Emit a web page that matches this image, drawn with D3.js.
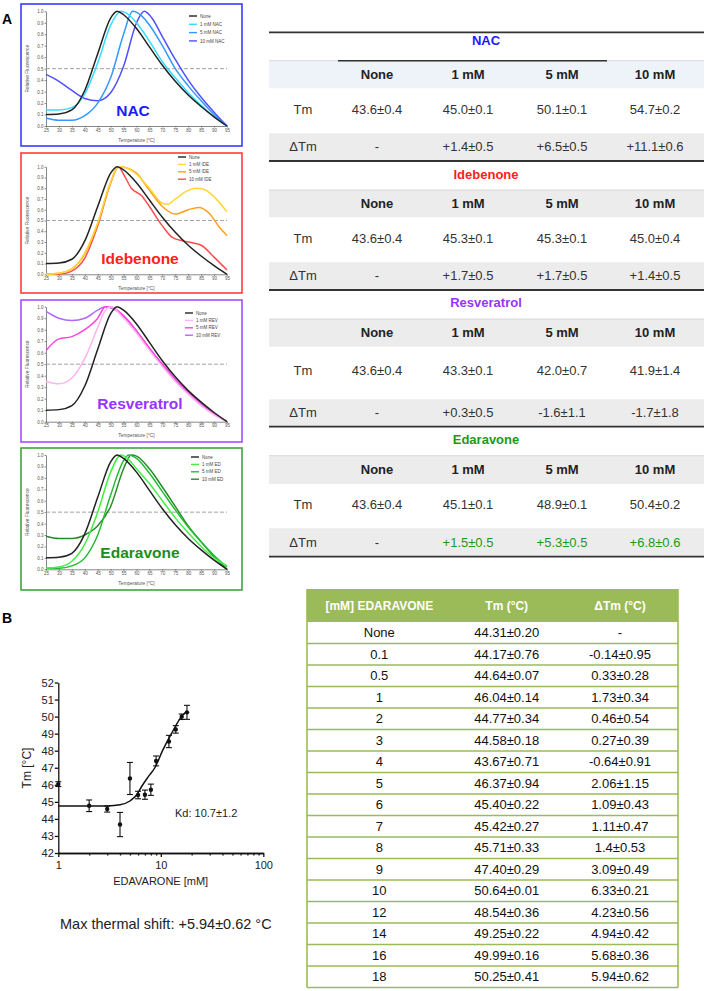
<!DOCTYPE html>
<html><head><meta charset="utf-8">
<script src="https://cdn.jsdelivr.net/npm/d3@7"></script>
<style>body{margin:0;background:#fff}svg{display:block}text{font-family:"Liberation Sans",Arial,sans-serif}</style>
</head><body><svg id="c" width="709" height="991"></svg>
<script>
// ---------- DATA: melting curves (Temperature °C, relative fluorescence) ----------
const noneCurve = [[25,0.10],[30,0.105],[35,0.14],[40,0.31],[45,0.63],[50,0.94],[52.5,1.0],[55,0.97],[60,0.85],[65,0.69],[70,0.53],[75,0.39],[80,0.27],[85,0.17],[90,0.08],[95,0.0]];
const nac1 = [[25,0.14],[30,0.14],[35,0.16],[40,0.28],[45,0.55],[50,0.88],[54,1.0],[57,0.97],[60,0.9],[65,0.74],[70,0.56],[75,0.42],[80,0.29],[85,0.18],[90,0.08],[95,0.0]];
const nac5 = [[25,0.07],[30,0.05],[35,0.05],[40,0.09],[45,0.2],[50,0.42],[55,0.8],[58.5,1.0],[62,0.96],[65,0.88],[70,0.7],[75,0.5],[80,0.35],[85,0.22],[90,0.1],[95,0.0]];
const nac10 = [[25,0.45],[30,0.39],[35,0.31],[40,0.24],[45,0.22],[50,0.29],[55,0.52],[60,0.9],[63,1.0],[66,0.94],[70,0.78],[75,0.58],[80,0.4],[85,0.25],[90,0.12],[95,0.0]];
const ide1 = [[25,0.0],[30,0.01],[35,0.05],[40,0.2],[45,0.48],[50,0.86],[53,1.0],[56,0.99],[60,0.93],[65,0.8],[70,0.66],[72,0.65],[75,0.7],[80,0.78],[83,0.8],[86,0.79],[90,0.72],[95,0.58]];
const ide5 = [[25,0.0],[30,0.01],[35,0.05],[40,0.19],[45,0.47],[50,0.85],[53,1.0],[56,0.99],[60,0.94],[65,0.78],[70,0.63],[75,0.56],[80,0.6],[84,0.62],[88,0.57],[92,0.44],[95,0.36]];
const ide10 = [[25,0.0],[30,0.0],[35,0.03],[40,0.15],[45,0.45],[50,0.85],[53,1.0],[55,0.93],[58,0.8],[62,0.73],[65,0.63],[70,0.45],[74,0.34],[78,0.31],[82,0.29],[85,0.27],[90,0.16],[95,0.04]];
const rev1 = [[25,0.35],[30,0.33],[35,0.38],[40,0.55],[45,0.82],[48,0.97],[50,1.0],[55,0.9],[60,0.77],[65,0.62],[70,0.48],[75,0.35],[80,0.24],[85,0.14],[90,0.06],[95,0.0]];
const rev5 = [[25,0.62],[30,0.72],[35,0.74],[40,0.8],[45,0.9],[48,1.0],[50,1.0],[55,0.92],[60,0.79],[65,0.64],[70,0.5],[75,0.37],[80,0.25],[85,0.15],[90,0.07],[95,0.0]];
const rev10 = [[25,0.96],[30,0.9],[35,0.88],[40,0.9],[45,0.97],[48,1.0],[50,0.99],[55,0.92],[60,0.79],[65,0.64],[70,0.5],[75,0.37],[80,0.26],[85,0.16],[90,0.07],[95,0.0]];
const ed1 = [[25,0.01],[30,0.02],[35,0.07],[40,0.22],[45,0.5],[50,0.85],[54,1.0],[57,0.96],[60,0.88],[65,0.75],[70,0.6],[75,0.45],[80,0.32],[85,0.2],[90,0.1],[95,0.03]];
const ed5 = [[25,0.01],[30,0.01],[35,0.03],[40,0.1],[45,0.3],[50,0.65],[55,0.95],[57,1.0],[60,0.97],[65,0.84],[70,0.68],[75,0.52],[80,0.37],[85,0.24],[90,0.12],[95,0.02]];
const ed10 = [[25,0.29],[30,0.27],[35,0.27],[40,0.3],[45,0.38],[50,0.55],[55,0.88],[58,1.0],[60,0.99],[65,0.88],[70,0.72],[75,0.55],[80,0.38],[85,0.24],[90,0.11],[95,0.0]];
const tempTicks = [25,30,35,40,45,50,55,60,65,70,75,80,85,90,95];
const fluoTicks = [0,0.1,0.2,0.3,0.4,0.5,0.6,0.7,0.8,0.9,1.0];

// ---------- DATA: panel A tables ----------
const compounds = ["NAC","Idebenone","Resveratrol","Edaravone"];
const concHeaders = ["None","1 mM","5 mM","10 mM"];
const nacTm = ["43.6±0.4","45.0±0.1","50.1±0.1","54.7±0.2"];
const nacDTm = ["-","+1.4±0.5","+6.5±0.5","+11.1±0.6"];
const ideTm = ["43.6±0.4","45.3±0.1","45.3±0.1","45.0±0.4"];
const ideDTm = ["-","+1.7±0.5","+1.7±0.5","+1.4±0.5"];
const revTm = ["43.6±0.4","43.3±0.1","42.0±0.7","41.9±1.4"];
const revDTm = ["-","+0.3±0.5","-1.6±1.1","-1.7±1.8"];
const edTm = ["43.6±0.4","45.1±0.1","48.9±0.1","50.4±0.2"];
const edDTm = ["-","+1.5±0.5","+5.3±0.5","+6.8±0.6"];

// ---------- DATA: panel B ----------
const edaConc = ["None","0.1","0.5","1","2","3","4","5","6","7","8","9","10","12","14","16","18"];
const edaTm = ["44.31±0.20","44.17±0.76","44.64±0.07","46.04±0.14","44.77±0.34","44.58±0.18","43.67±0.71","46.37±0.94","45.40±0.22","45.42±0.27","45.71±0.33","47.40±0.29","50.64±0.01","48.54±0.36","49.25±0.22","49.99±0.16","50.25±0.41"];
const edaDTm = ["-","-0.14±0.95","0.33±0.28","1.73±0.34","0.46±0.54","0.27±0.39","-0.64±0.91","2.06±1.15","1.09±0.43","1.11±0.47","1.4±0.53","3.09±0.49","6.33±0.21","4.23±0.56","4.94±0.42","5.68±0.36","5.94±0.62"];
const doseConc = [1,2,3,4,5,6,7,8,9,12,14,16,18];
const doseTm = [46.04,44.77,44.58,43.67,46.37,45.40,45.42,45.71,47.40,48.54,49.25,49.99,50.25];
const doseErr = [0.14,0.34,0.18,0.71,0.94,0.22,0.27,0.33,0.29,0.36,0.22,0.16,0.41];
const fitConc = [1,2,3,4,5,5.8,6.5,7.5,8.75,10.4,12.7,15.9,17.8];
const fitTm = [44.75,44.75,44.76,44.83,45.05,45.4,45.9,46.45,47.0,48.0,49.0,50.0,50.3];
const doseYTicks = [42,43,44,45,46,47,48,49,50,51,52];
const doseXTicks = [1,10,100];

// ---------- DRAW ----------
const svg = d3.select("#c");
const F = '"Liberation Sans",Arial,sans-serif';

svg.append("text").attr("x",2).attr("y",24).attr("font-size",14).attr("font-weight","bold").text("A");
svg.append("text").attr("x",2).attr("y",623).attr("font-size",14).attr("font-weight","bold").text("B");

const panels = [
  {box:[4,146], y1:11.3, y0:126, color:"#3b3bff", label:"NAC", labelX:133, labelY:116, lcol:"#1a1aff",
   series:[[noneCurve,"#222","None"],[nac1,"#33ddff","1 mM NAC"],[nac5,"#3399ff","5 mM NAC"],[nac10,"#5050ff","10 mM NAC"]],
   leg:[189,16,8.3]},
  {box:[153,293], y1:166.7, y0:274.3, color:"#ff3b3b", label:"Idebenone", labelX:140, labelY:264, lcol:"#ff2020",
   series:[[noneCurve,"#222","None"],[ide1,"#ffd633","1 mM IDE"],[ide5,"#ff9f1a","5 mM IDE"],[ide10,"#ff4d4d","10 mM IDE"]],
   leg:[178,157,7.4]},
  {box:[300,442], y1:306.7, y0:421.7, color:"#a64dff", label:"Resveratrol", labelX:140, labelY:409, lcol:"#9933ff",
   series:[[noneCurve,"#222","None"],[rev1,"#ffb3f0","1 mM REV"],[rev5,"#ff44dd","5 mM REV"],[rev10,"#b266ff","10 mM REV"]],
   leg:[185,313,7.4]},
  {box:[448,590], y1:455, y0:569.3, color:"#3da53d", label:"Edaravone", labelX:140, labelY:558, lcol:"#1a8f1a",
   series:[[noneCurve,"#222","None"],[ed1,"#44ee44","1 mM ED"],[ed5,"#22bb33","5 mM ED"],[ed10,"#2a8a2a","10 mM ED"]],
   leg:[191,457,7.4]}
];

panels.forEach(p => {
  const g = svg.append("g");
  g.append("rect").attr("x",21).attr("y",p.box[0]).attr("width",221).attr("height",p.box[1]-p.box[0])
    .attr("fill","#fff").attr("stroke",p.color).attr("stroke-width",1.6);
  const x = d3.scaleLinear().domain([25,95]).range([46,227]);
  const y = d3.scaleLinear().domain([0,1]).range([p.y0,p.y1]);
  const ax = g.append("g").attr("transform",`translate(0,${p.y0})`)
    .call(d3.axisBottom(x).tickValues(tempTicks).tickSize(1.5).tickSizeOuter(0).tickPadding(1));
  const ay = g.append("g").attr("transform",`translate(46,0)`)
    .call(d3.axisLeft(y).tickValues(fluoTicks).tickFormat(d3.format(".1f")).tickSize(1.5).tickSizeOuter(0).tickPadding(1));
  [ax,ay].forEach(a => { a.selectAll("text").attr("font-size",4.5).attr("fill","#555").attr("font-family",F);
    a.selectAll("path,line").attr("stroke","#555").attr("stroke-width",0.7); });
  g.append("text").attr("x",136.5).attr("y",p.y0+15.5).attr("text-anchor","middle").attr("font-size",4.8).attr("fill","#555").text("Temperature [°C]");
  g.append("text").attr("transform",`translate(29,${(p.y0+p.y1)/2}) rotate(-90)`).attr("text-anchor","middle").attr("font-size",4.8).attr("fill","#555").text("Relative Fluorescence");
  g.append("line").attr("x1",46).attr("x2",227).attr("y1",y(0.5)).attr("y2",y(0.5))
    .attr("stroke","#999").attr("stroke-width",0.9).attr("stroke-dasharray","4,2");
  const line = d3.line().x(d=>x(d[0])).y(d=>y(d[1])).curve(d3.curveMonotoneX);
  p.series.slice().reverse().forEach(s => {
    g.append("path").attr("d",line(s[0])).attr("fill","none").attr("stroke",s[1]).attr("stroke-width",1.5);
  });
  p.series.forEach((s,i) => {
    const ly = p.leg[1] + i*p.leg[2];
    g.append("line").attr("x1",p.leg[0]).attr("x2",p.leg[0]+8).attr("y1",ly).attr("y2",ly).attr("stroke",s[1]).attr("stroke-width",1.4);
    g.append("text").attr("x",p.leg[0]+11).attr("y",ly+1.6).attr("font-size",4.5).attr("fill","#444").text(s[2]);
  });
  g.append("text").attr("x",p.labelX).attr("y",p.labelY).attr("text-anchor","middle").attr("font-size",15.5)
    .attr("font-weight","bold").attr("fill",p.lcol).text(p.label);
});

// ---------- Panel A tables ----------
const tblX0 = 269, tblX1 = 704;
const colX = [303,377,468,562,655];
const secTitle = [40.7,174,302.7,439.3];
const hdrTop = [60.7,190,319,455.7], hdrBot = [88.3,217.3,346.7,484];
const tmY = [109.3,238.3,370.7,504];
const dTop = [133.3,262.3,399.3,528.3], dBot = [160,289.3,426,556];
const ruleY = [161,290,426.7,556.7];
const secColors = ["#1a1aff","#ff2020","#9933ff","#1a9a1a"];
const tmRows = [nacTm, ideTm, revTm, edTm];
const dRows = [nacDTm, ideDTm, revDTm, edDTm];
const tg = svg.append("g");
tg.append("line").attr("x1",tblX0).attr("x2",tblX1).attr("y1",32.3).attr("y2",32.3).attr("stroke","#333").attr("stroke-width",1.8);
compounds.forEach((c,i) => {
  tg.append("text").attr("x",486).attr("y",secTitle[i]+4.6).attr("text-anchor","middle").attr("font-size",13)
    .attr("font-weight","bold").attr("fill",secColors[i]).text(c);
  tg.append("rect").attr("x",tblX0).attr("y",hdrTop[i]).attr("width",tblX1-tblX0).attr("height",hdrBot[i]-hdrTop[i])
    .attr("fill", i===0 ? "#eef3f9" : "#ececec");
  tg.append("line").attr("x1",tblX0).attr("x2",tblX1).attr("y1",hdrTop[i]).attr("y2",hdrTop[i]).attr("stroke","#d0d0d0").attr("stroke-width",0.8);
  if (i===0) tg.append("line").attr("x1",338).attr("x2",607).attr("y1",hdrTop[i]).attr("y2",hdrTop[i]).attr("stroke","#333").attr("stroke-width",1.4);
  tg.append("rect").attr("x",tblX0).attr("y",dTop[i]).attr("width",tblX1-tblX0).attr("height",dBot[i]-dTop[i]).attr("fill","#ececec");
  tg.append("line").attr("x1",tblX0).attr("x2",tblX1).attr("y1",ruleY[i]).attr("y2",ruleY[i]).attr("stroke","#333").attr("stroke-width",1.8);
  const hy = (hdrTop[i]+hdrBot[i])/2 + 4.6;
  concHeaders.forEach((h,j) => tg.append("text").attr("x",colX[j+1]).attr("y",hy).attr("text-anchor","middle")
    .attr("font-size",13).attr("font-weight","bold").attr("fill","#222").text(h));
  tg.append("text").attr("x",colX[0]).attr("y",tmY[i]+4.6).attr("text-anchor","middle").attr("font-size",13).attr("fill","#333").text("Tm");
  tmRows[i].forEach((v,j) => tg.append("text").attr("x",colX[j+1]).attr("y",tmY[i]+4.6).attr("text-anchor","middle").attr("font-size",13).attr("fill","#333").text(v));
  const dy = (dTop[i]+dBot[i])/2 + 4.6;
  tg.append("text").attr("x",colX[0]).attr("y",dy).attr("text-anchor","middle").attr("font-size",13).attr("fill","#333").text("ΔTm");
  dRows[i].forEach((v,j) => tg.append("text").attr("x",colX[j+1]).attr("y",dy).attr("text-anchor","middle").attr("font-size",13)
    .attr("fill", (i===3 && j>0) ? "#1a9a1a" : "#333").text(v));
});

// ---------- Panel B: dose-response ----------
const bg = svg.append("g");
const xl = d3.scaleLog().domain([1,100]).range([58.3,263.3]);
const yl = d3.scaleLinear().domain([42,52]).range([853,682.5]);
const minorTicks = [2,3,4,5,6,7,8,9,20,30,40,50,60,70,80,90];
const bx = bg.append("g").attr("transform","translate(0,853)")
  .call(d3.axisBottom(xl).tickValues(doseXTicks).tickFormat(d3.format("d")).tickSize(4).tickSizeOuter(0).tickPadding(4));
const bxm = bg.append("g").attr("transform","translate(0,853)")
  .call(d3.axisBottom(xl).tickValues(minorTicks).tickFormat("").tickSize(2.5).tickSizeOuter(0));
const by = bg.append("g").attr("transform","translate(58.3,0)")
  .call(d3.axisLeft(yl).tickValues(doseYTicks).tickFormat(d3.format("d")).tickSize(3.5).tickSizeOuter(0).tickPadding(1));
[bx,bxm,by].forEach(a => { a.selectAll("text").attr("font-size",11).attr("fill","#222").attr("font-family",F);
  a.selectAll("path,line").attr("stroke","#111").attr("stroke-width",1.3); });
bg.append("text").attr("x",160.7).attr("y",885).attr("text-anchor","middle").attr("font-size",11).attr("fill","#222").text("EDAVARONE [mM]");
bg.append("text").attr("transform","translate(31,768) rotate(-90)").attr("text-anchor","middle").attr("font-size",12).attr("fill","#222").text("Tm [°C]");
const fitPts = fitConc.map((c,i)=>[c,fitTm[i]]);
bg.append("path").attr("d",d3.line().x(d=>xl(d[0])).y(d=>yl(d[1])).curve(d3.curveMonotoneX)(fitPts))
  .attr("fill","none").attr("stroke","#111").attr("stroke-width",1.5);
doseConc.forEach((c,i) => {
  const cx = xl(c), t = doseTm[i], e = doseErr[i];
  bg.append("line").attr("x1",cx).attr("x2",cx).attr("y1",yl(t-e)).attr("y2",yl(t+e)).attr("stroke","#111").attr("stroke-width",1.1);
  [t-e,t+e].forEach(v => bg.append("line").attr("x1",cx-3).attr("x2",cx+3).attr("y1",yl(v)).attr("y2",yl(v)).attr("stroke","#111").attr("stroke-width",1.1));
  bg.append("circle").attr("cx",cx).attr("cy",yl(t)).attr("r",2.2).attr("fill","#111");
});
bg.append("text").attr("x",175).attr("y",816.5).attr("font-size",11).attr("fill","#222").text("Kd: 10.7±1.2");
bg.append("text").attr("x",60).attr("y",929).attr("font-size",14.5).attr("fill","#222").text("Max thermal shift: +5.94±0.62 °C");

// ---------- Panel B table ----------
const btX0 = 307, btX1 = 678, btTop = 589, btHdr = 622, rowH = 21.5;
const bcol = [379.3,506.7,620];
const green = "#9bbb59";
const bt = svg.append("g");
bt.append("rect").attr("x",btX0).attr("y",btTop).attr("width",btX1-btX0).attr("height",btHdr-btTop).attr("fill",green);
["[mM] EDARAVONE","Tm (°C)","ΔTm (°C)"].forEach((h,j) => bt.append("text").attr("x",bcol[j]).attr("y",(btTop+btHdr)/2+4.3)
  .attr("text-anchor","middle").attr("font-size",12).attr("font-weight","bold").attr("fill","#fff").text(h));
edaConc.forEach((c,i) => {
  const yT = btHdr + i*rowH;
  bt.append("line").attr("x1",btX0).attr("x2",btX1).attr("y1",yT+rowH).attr("y2",yT+rowH).attr("stroke",green).attr("stroke-width",1.6);
  [c, edaTm[i], edaDTm[i]].forEach((v,j) => bt.append("text").attr("x",bcol[j]).attr("y",yT+rowH/2+4.5)
    .attr("text-anchor","middle").attr("font-size",13).attr("fill","#111").text(v));
});
const btBot = btHdr + edaConc.length*rowH;
[btX0,btX1].forEach(xv => bt.append("line").attr("x1",xv).attr("x2",xv).attr("y1",btTop).attr("y2",btBot).attr("stroke",green).attr("stroke-width",1.6));
</script></body></html>
